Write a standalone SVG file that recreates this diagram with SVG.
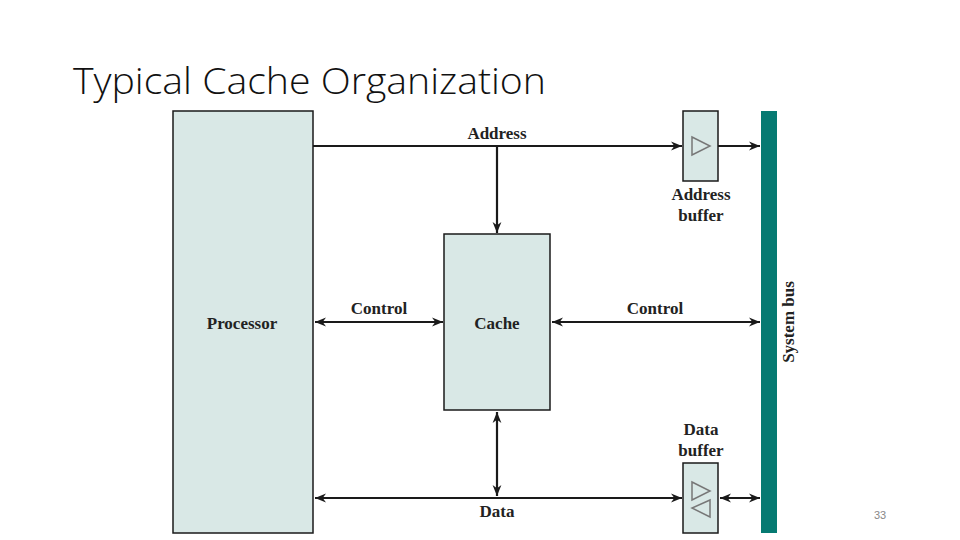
<svg xmlns="http://www.w3.org/2000/svg" width="960" height="540" viewBox="0 0 960 540">
<defs>
<style>
.box{fill:#d9e8e6;stroke:#1a1a1a;stroke-width:1.5}
.lbl{font-family:"Liberation Serif","DejaVu Serif",serif;font-weight:bold;font-size:17px;fill:#222;text-anchor:middle}
.ln{stroke:#1a1a1a;stroke-width:2.2;fill:none}
.tri{fill:none;stroke:#777;stroke-width:1.5}
</style>
<marker id="ah" viewBox="0 0 10 10" refX="10" refY="5" markerWidth="5" markerHeight="5" orient="auto-start-reverse" markerUnits="strokeWidth">
<path d="M0,1 L10,5 L0,9 L3,5 Z" fill="#1a1a1a"/>
</marker>
</defs>
<rect width="960" height="540" fill="#fff"/>
<text x="73" y="94" font-family="'Open Sans','Liberation Sans',sans-serif" font-weight="300" font-size="36" fill="#111" textLength="473" lengthAdjust="spacingAndGlyphs">Typical Cache Organization</text>
<text x="880" y="519" font-family="'Liberation Sans',sans-serif" font-size="11" fill="#888" text-anchor="middle">33</text>

<g id="processor">
<rect class="box" x="173" y="111" width="140" height="422"/>
<text class="lbl" x="242" y="329">Processor</text>
</g>
<g id="cache">
<rect class="box" x="444" y="234" width="106" height="176"/>
<text class="lbl" x="497" y="329">Cache</text>
</g>
<g id="address-buffer">
<rect class="box" x="683" y="111" width="35" height="70"/>
<path class="tri" d="M692,137 L710,146 L692,155 Z"/>
<text class="lbl" x="701" y="200">Address</text>
<text class="lbl" x="701" y="221">buffer</text>
</g>
<g id="data-buffer">
<rect class="box" x="683" y="463" width="35" height="70"/>
<path class="tri" d="M692,482 L710,491 L692,500 Z"/>
<path class="tri" d="M710,500 L692,508 L710,517 Z"/>
<text class="lbl" x="701" y="435">Data</text>
<text class="lbl" x="701" y="456">buffer</text>
</g>
<g id="system-bus">
<rect x="761" y="111" width="16" height="422" fill="#067a72"/>
<text class="lbl" transform="translate(794,322) rotate(-90)">System bus</text>
</g>

<g id="connectors">
<line class="ln" x1="313" y1="146" x2="682" y2="146" marker-end="url(#ah)"/>
<line class="ln" x1="718" y1="146" x2="760" y2="146" marker-end="url(#ah)"/>
<line class="ln" x1="497" y1="146" x2="497" y2="233" marker-end="url(#ah)"/>
<line class="ln" x1="315" y1="322" x2="443" y2="322" marker-start="url(#ah)" marker-end="url(#ah)"/>
<line class="ln" x1="552" y1="322" x2="760" y2="322" marker-start="url(#ah)" marker-end="url(#ah)"/>
<line class="ln" x1="497" y1="412" x2="497" y2="496" marker-start="url(#ah)" marker-end="url(#ah)"/>
<line class="ln" x1="315" y1="498" x2="682" y2="498" stroke-width="3" marker-start="url(#ah)" marker-end="url(#ah)"/>
<line class="ln" x1="720" y1="498" x2="760" y2="498" stroke-width="3" marker-start="url(#ah)" marker-end="url(#ah)"/>
<text class="lbl" x="497" y="139">Address</text>
<text class="lbl" x="379" y="314">Control</text>
<text class="lbl" x="655" y="314">Control</text>
<text class="lbl" x="497" y="517">Data</text>
</g>
</svg>
